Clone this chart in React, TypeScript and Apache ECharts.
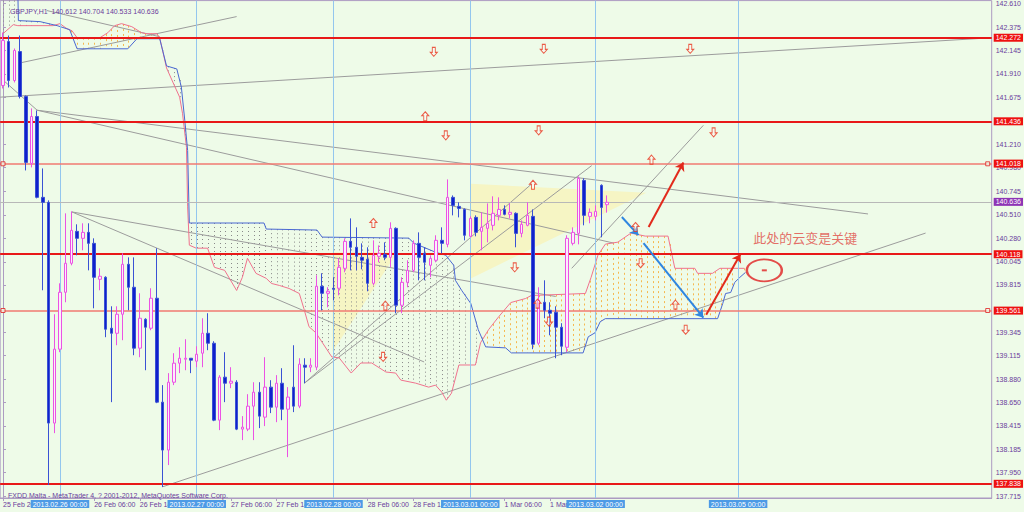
import React, { useEffect, useRef } from "react";
import * as echarts from "echarts";

// ---------- data ----------
const SLOTS = 174; // hourly slots shown on the time axis (bars + future area)
const Y_MIN = 137.699;
const Y_MAX = 142.639;

// hourly bars: [open, close, low, high]
const candles: number[][] = [
  [141.796, 142.242, 141.766, 142.322], [142.232, 141.845, 141.776, 142.292], [141.845, 142.143, 141.826, 142.163],
  [142.133, 141.687, 141.667, 142.292], [141.687, 141.032, 140.952, 141.697], [141.022, 141.488, 140.982, 141.568],
  [141.488, 140.685, 140.675, 141.548], [140.685, 140.635, 139.762, 140.972], [140.635, 138.443, 137.828, 140.655],
  [138.443, 139.177, 138.343, 139.524], [139.177, 139.742, 139.147, 139.831], [139.742, 140.030, 139.643, 140.526],
  [140.030, 140.357, 140.010, 140.546], [140.347, 140.278, 140.109, 140.417], [140.278, 140.337, 140.159, 140.427],
  [140.337, 140.228, 139.960, 140.427], [140.228, 139.891, 139.583, 140.278], [139.871, 139.901, 139.762, 139.980],
  [139.891, 139.375, 139.296, 139.901], [139.385, 139.335, 138.651, 139.603], [139.335, 139.524, 139.216, 139.603],
  [139.524, 140.020, 139.266, 140.129], [140.020, 139.792, 139.563, 140.089], [139.792, 139.187, 139.117, 140.089],
  [139.187, 139.484, 139.097, 139.732], [139.474, 139.395, 138.968, 139.484], [139.385, 139.683, 139.365, 139.782],
  [139.683, 138.651, 138.641, 140.179], [138.651, 138.175, 137.808, 138.820], [138.175, 138.849, 138.026, 138.939],
  [138.849, 139.038, 138.820, 139.137], [139.038, 139.087, 138.939, 139.196], [139.077, 139.087, 138.968, 139.276],
  [139.087, 139.068, 138.939, 139.087], [139.058, 139.127, 138.998, 139.206], [139.137, 139.335, 138.998, 139.484],
  [139.335, 139.236, 139.167, 139.534], [139.236, 138.472, 138.462, 139.256], [138.472, 138.899, 138.373, 138.919],
  [138.899, 138.839, 138.651, 139.147], [138.839, 138.859, 138.790, 138.998], [138.849, 138.383, 138.373, 138.869],
  [138.383, 138.403, 138.274, 138.512], [138.383, 138.611, 138.363, 138.730], [138.611, 138.750, 138.274, 138.849],
  [138.750, 138.512, 138.393, 138.849], [138.502, 138.800, 138.413, 139.097], [138.800, 138.601, 138.542, 138.869],
  [138.601, 138.839, 138.452, 138.919], [138.839, 138.581, 138.472, 138.988], [138.581, 138.701, 138.105, 138.800],
  [138.800, 138.611, 138.552, 139.216], [138.611, 139.028, 138.591, 139.087], [139.018, 138.998, 138.839, 139.087],
  [138.998, 139.018, 138.949, 139.087], [138.998, 139.802, 138.968, 139.911], [139.802, 139.732, 139.563, 139.931],
  [139.732, 139.752, 139.593, 139.792], [139.782, 139.772, 139.663, 139.891], [139.782, 139.990, 139.712, 140.079],
  [139.980, 140.248, 139.941, 140.278], [140.248, 140.189, 139.960, 140.476], [140.189, 140.099, 139.960, 140.387],
  [140.089, 140.060, 139.970, 140.228], [140.070, 139.831, 139.752, 140.189], [139.831, 140.109, 139.812, 140.258],
  [140.099, 140.129, 140.040, 140.208], [140.119, 140.089, 140.060, 140.238], [140.089, 140.377, 139.990, 140.437],
  [140.377, 139.613, 139.534, 140.387], [139.613, 139.841, 139.534, 139.891], [139.841, 139.960, 139.792, 140.060],
  [139.960, 140.228, 139.941, 140.258], [140.228, 140.089, 139.861, 140.337], [140.129, 140.040, 139.861, 140.189],
  [140.010, 140.079, 139.891, 140.109], [140.060, 140.258, 140.040, 140.308], [140.258, 140.228, 140.129, 140.387],
  [140.218, 140.685, 140.189, 140.863], [140.685, 140.605, 140.506, 140.704], [140.595, 140.575, 140.486, 140.635],
  [140.565, 140.308, 140.258, 140.575], [140.298, 140.476, 140.288, 140.496], [140.486, 140.337, 140.298, 140.506],
  [140.347, 140.387, 140.159, 140.536], [140.377, 140.427, 140.238, 140.625], [140.407, 140.526, 140.357, 140.695],
  [140.506, 140.565, 140.456, 140.685], [140.565, 140.516, 140.506, 140.605], [140.516, 140.536, 140.476, 140.625],
  [140.526, 140.327, 140.189, 140.536], [140.327, 140.417, 140.288, 140.456], [140.407, 140.506, 140.397, 140.635],
  [140.496, 139.226, 139.177, 140.565], [139.236, 139.663, 139.216, 139.792], [139.643, 139.563, 139.484, 139.861],
  [139.563, 139.534, 139.315, 139.643], [139.544, 139.395, 139.087, 139.603], [139.395, 139.206, 139.117, 139.435],
  [139.196, 140.278, 139.147, 140.308], [140.228, 140.337, 140.208, 140.387], [140.327, 140.873, 140.218, 140.893],
  [140.853, 140.506, 140.407, 140.873], [140.496, 140.536, 140.427, 140.575], [140.496, 140.546, 140.456, 140.605],
  [140.804, 140.585, 140.288, 140.814], [140.612, 140.636, 140.533, 140.704],
];

// Ichimoku Senkou Span A (pink) vertices: [bar index, price]
const senkouA: number[][] = [
  [0, 142.31], [1.8, 142.40], [2.6, 142.39], [8.8, 142.39], [10, 142.41], [11.2, 142.36], [12.1, 142.34], [13, 142.27],
  [17, 142.27], [18.4, 142.32], [19.6, 142.39], [20.8, 142.41], [22.6, 142.38], [24.3, 142.32], [25.2, 142.31], [27, 142.31],
  [27.5, 142.27], [28.7, 141.97], [29.8, 141.83], [31, 141.68], [31.5, 141.52], [32.2, 141.18], [32.4, 140.59], [32.7, 140.21],
  [33.9, 140.18], [35.9, 140.18], [37.1, 139.99], [38.9, 139.96], [41, 139.76], [42, 139.89], [42.9, 140.08], [44.4, 139.93],
  [46.2, 139.88], [47.1, 139.83], [48.5, 139.81], [50.2, 139.78], [52, 139.73], [52.8, 139.58], [53.7, 139.40], [54.9, 139.34],
  [57.7, 139.10], [59, 139.09], [61.1, 138.94], [62.8, 139.04], [64.7, 139.04], [67.2, 138.95], [68.9, 138.94], [69.8, 138.87],
  [72.4, 138.84], [74.7, 138.80], [75.9, 138.82], [77, 138.75], [77.8, 138.67], [78.7, 138.74], [80, 139.02], [82.9, 139.02],
  [83.8, 139.24], [85.2, 139.37], [87, 139.50], [89.1, 139.64], [91.7, 139.68], [92.7, 139.71], [102.2, 139.73], [103.2, 139.89],
  [104.4, 140.11], [105.7, 140.22], [107.9, 140.24], [110.2, 140.33], [112.7, 140.30], [116.7, 140.30], [117.9, 139.98],
  [121.4, 139.98], [121.9, 139.93], [124.5, 139.93], [125.8, 139.98], [130.1, 139.98],
];

// Ichimoku Senkou Span B (blue) vertices: [bar index, price]
const senkouB: number[][] = [
  [0, 142.74], [2.6, 142.74], [2.7, 142.44], [6.5, 142.43], [9.5, 142.39], [11.7, 142.35], [13, 142.16], [21.9, 142.16],
  [23.5, 142.26], [27.5, 142.26], [28.7, 141.99], [30.5, 141.96], [31.3, 141.78], [31.9, 141.45], [32.4, 141.15], [32.7, 140.43],
  [45.8, 140.43], [46.2, 140.37], [55.1, 140.36], [56, 140.29], [71.2, 140.28], [72.1, 140.23], [75.9, 140.14], [77.7, 140.11],
  [79.1, 140.01], [79.4, 139.86], [80.5, 139.76], [82.1, 139.63], [83.4, 139.37], [84.7, 139.20], [88.2, 139.19], [89.2, 139.14],
  [101.8, 139.14], [102.7, 139.30], [103.9, 139.34], [104.8, 139.45], [105.7, 139.48], [116.7, 139.48], [125.4, 139.48],
  [126.3, 139.63], [126.8, 139.73], [127.7, 139.74], [128.4, 139.84], [129.3, 139.89], [130.3, 139.94],
];

// last bar slot that carries the projected cloud
const CLOUD_END = 130;

// horizontal levels
const redLevels = [142.272, 141.436, 140.118, 137.838];
const lightLevels = [141.018, 139.561];
const bidPrice = 140.636;

// vertical time lines
const vLineIdx = [10, 34, 58, 82, 104, 129];
const vLineLabels = ["2013.02.26 00:00", "2013.02.27 00:00", "2013.02.28 00:00", "2013.03.01 00:00", "2013.03.02 00:00", "2013.03.05 00:00"];

// time axis labels (as visible beside the time-line tags)
const timeTickIdx = [0, 16, 24, 40, 48, 64, 72, 88, 96];
const timeTickLabels = ["25 Feb 20", "26 Feb 06:00", "26 Feb 14", "27 Feb 06:00", "27 Feb 14", "28 Feb 06:00", "28 Feb 14",
  "1 Mar 06:00", "1 Mar"];

// price axis labels
const priceTicks = [142.610, 142.375, 142.145, 141.910, 141.675, 141.210, 140.980, 140.745, 140.510, 140.280,
  140.045, 139.815, 139.345, 139.115, 138.880, 138.650, 138.415, 138.185, 137.950, 137.715];

// trend lines: [[i0, p0], [i1, p1]]
const trendLines: number[][][] = [
  [[7.7, 142.54], [27.5, 142.28]],
  [[3.0, 142.02], [41.0, 142.48]],
  [[-0.5, 141.68], [173.5, 142.27]],
  [[0.0, 141.85], [6.0, 141.55]],
  [[6.0, 141.55], [151.8, 140.52]],
  [[6.0, 141.55], [107.2, 140.23]],
  [[12.1, 140.54], [97.0, 139.70]],
  [[12.1, 140.54], [73.9, 139.05]],
  [[28.0, 137.81], [161.9, 140.33]],
  [[52.9, 138.84], [92.8, 140.82]],
  [[52.9, 138.84], [103.3, 141.00]],
  [[99.8, 139.98], [122.9, 141.40]],
];

// shaded triangles
const triangles: number[][][] = [
  [[57.8, 140.14], [69.2, 140.14], [57.8, 139.15]],
  [[82.1, 140.82], [82.1, 139.88], [112.9, 140.73]],
];

// drawn arrows
const redArrows: number[][][] = [
  [[113.3, 140.39], [119.4, 141.03]],
  [[123.4, 139.52], [129.4, 140.12]],
];
const blueArrows: number[][][] = [
  [[108.6, 140.49], [111.5, 140.31]],
  [[112.4, 140.23], [122.9, 139.49]],
];

// signal arrow marks
const upMarks: number[][] = [
  [74.1, 141.49], [113.8, 141.06], [65.0, 140.43], [93.0, 140.81], [111.0, 140.39], [118.0, 139.62], [67.1, 139.61], [93.8, 139.63],
];
const downMarks: number[][] = [
  [75.6, 142.13], [94.9, 142.16], [120.6, 142.16], [77.7, 141.30], [94.0, 141.35], [124.7, 141.33], [89.8, 139.99],
  [111.9, 140.03], [119.8, 139.37], [66.7, 139.10], [95.8, 139.45],
];

const noteText = "此处的云变是关键";
const notePos = [131.3, 140.29];
const ellipsePos = [133.6, 139.96];

// ---------- helpers ----------
const FONT = '"Liberation Sans", Arial, sans-serif';
const AXIS_COLOR = "#ad9bc2";
const TEXT_COLOR = "#6a3c9c";

function interp(list: number[][], x: number): number {
  if (x <= list[0][0]) return list[0][1];
  for (let k = 1; k < list.length; k++) {
    if (x <= list[k][0]) {
      const [x0, y0] = list[k - 1];
      const [x1, y1] = list[k];
      return x1 === x0 ? y1 : y0 + ((y1 - y0) * (x - x0)) / (x1 - x0);
    }
  }
  return list[list.length - 1][1];
}

export default function App() {
  const ref = useRef<HTMLDivElement>(null);
  useEffect(() => {
    const el = ref.current!;
    const chart = echarts.init(el, null, { renderer: "svg" });
    const last = candles[candles.length - 1];
    const tickSet = new Set(timeTickIdx);

    const lineSeries = (data: number[][], color: string, width: number, z: number) => ({
      type: "line", xAxisIndex: 1, yAxisIndex: 0, data, showSymbol: false, symbol: "none", silent: true, z,
      lineStyle: { color, width }, animation: false,
    });

    const upPath = "path://M3.5,0 L7,4 L5,4 L5,9 L2,9 L2,4 L0,4 Z";
    const ellipsePath = "path://M0,10 A10,10 0 1,0 20,10 A10,10 0 1,0 0,10 Z";
    const levelLabel = (text: string, bg: string) => ({
      show: true, position: "end", distance: 2, formatter: text, color: "#ffffff", backgroundColor: bg,
      padding: [1, 2, 0, 2], fontSize: 7, fontFamily: FONT,
    });

    const option: any = {
      animation: false,
      backgroundColor: "#eefbe8",
      textStyle: { fontFamily: FONT },
      title: [
        { text: `GBPJPY,H1  ${last[0].toFixed(3)} ${last[3].toFixed(3)} ${last[2].toFixed(3)} ${last[1].toFixed(3)}`, left: 5, top: 3,
          textStyle: { fontSize: 7, fontWeight: "normal", color: TEXT_COLOR, fontFamily: FONT } },
        { text: "FXDD Malta - MetaTrader 4, ? 2001-2012, MetaQuotes Software Corp.", left: 3, top: 487,
          textStyle: { fontSize: 7, fontWeight: "normal", color: TEXT_COLOR, fontFamily: FONT } },
      ],
      grid: { left: 0, top: 0, width: 994, height: 498, show: true, borderColor: AXIS_COLOR, borderWidth: 1, backgroundColor: "transparent" },
      xAxis: [
        {
          type: "category", data: Array.from({ length: SLOTS }, (_, i) => String(i)), boundaryGap: true,
          axisLine: { show: true, lineStyle: { color: AXIS_COLOR } },
          axisTick: { show: true, alignWithLabel: true, length: 3, interval: (i: number) => tickSet.has(i), lineStyle: { color: AXIS_COLOR } },
          axisLabel: {
            interval: (i: number) => tickSet.has(i), align: "left", fontSize: 7, color: TEXT_COLOR, margin: 3, fontFamily: FONT,
            formatter: (_v: string, i: number) => { const k = timeTickIdx.indexOf(i); return k >= 0 ? timeTickLabels[k] : ""; },
          },
          splitLine: { show: false },
        },
        { type: "value", min: -0.5, max: SLOTS - 0.5, show: false },
      ],
      yAxis: {
        type: "value", position: "right", min: Y_MIN, max: Y_MAX, scale: true,
        axisLine: { show: true, lineStyle: { color: AXIS_COLOR } },
        axisTick: { show: true, length: 3, customValues: priceTicks, lineStyle: { color: AXIS_COLOR } },
        axisLabel: { customValues: priceTicks, formatter: (v: number) => v.toFixed(3), fontSize: 7, color: TEXT_COLOR, margin: 4, fontFamily: FONT },
        splitLine: { show: false },
      },
      series: [
        // triangles
        {
          type: "custom", xAxisIndex: 1, yAxisIndex: 0, z: 1, silent: true, data: [[0, 140]],
          renderItem: (_p: any, api: any) => ({
            type: "group",
            children: triangles.map((t) => ({
              type: "polygon", shape: { points: t.map((q) => api.coord(q)) }, style: { fill: "#f6f5c4", stroke: "none" },
            })),
          }),
        },
        // vertical & horizontal levels
        {
          type: "line", xAxisIndex: 0, yAxisIndex: 0, data: [], z: 3, silent: true,
          markLine: {
            silent: true, symbol: "none", animation: false,
            data: [
              ...vLineIdx.map((v, k) => ({
                xAxis: String(v), lineStyle: { color: "#93c6ee", width: 1, type: "solid" },
                label: { show: true, position: "start", distance: 2, formatter: vLineLabels[k], color: "#ffffff", backgroundColor: "#4d9be6",
                  padding: [1, 2, 0, 2], fontSize: 7, fontFamily: FONT },
              })),
              ...redLevels.map((v) => ({ yAxis: v, lineStyle: { color: "#e81818", width: 2, type: "solid" }, label: levelLabel(v.toFixed(3), "#ee1111") })),
              ...lightLevels.map((v) => ({ yAxis: v, lineStyle: { color: "#f07a72", width: 1.5, type: "solid" }, label: levelLabel(v.toFixed(3), "#ee1111") })),
              { yAxis: bidPrice, lineStyle: { color: "#b8b8b8", width: 1, type: "solid" }, label: levelLabel(bidPrice.toFixed(3), "#8e35b5") },
            ],
          },
        },
        // cloud: dotted histogram between the two spans, one column per bar slot
        {
          type: "custom", xAxisIndex: 1, yAxisIndex: 0, z: 2, silent: true, data: [[0, 140]],
          renderItem: (_p: any, api: any) => {
            const children: any[] = [];
            for (let i = 0; i <= CLOUD_END; i++) {
              const a = interp(senkouA, i);
              const b = interp(senkouB, i);
              const bull = a > b;
              const p0 = api.coord([i, Math.min(Math.max(a, b), Y_MAX)]);
              const p1 = api.coord([i, Math.min(a, b)]);
              const x = Math.round(p0[0]) + 0.5;
              children.push({
                type: "line",
                shape: { x1: x, y1: p0[1], x2: x, y2: p1[1] },
                style: bull
                  ? { stroke: "#f6b84e", lineWidth: 1, lineDash: [2, 3] }
                  : { stroke: "#8a8a8a", lineWidth: 1, lineDash: [1, 3] },
              });
            }
            return { type: "group", children };
          },
        },
        // trend lines
        ...trendLines.map((t) => lineSeries(t, "#9c9c9c", 1, 3)),
        // ichimoku spans
        lineSeries(senkouA, "#f0728e", 1, 4),
        lineSeries(senkouB, "#4a68d2", 1, 4),
        // candles
        {
          type: "candlestick", xAxisIndex: 0, yAxisIndex: 0, data: candles, z: 5, barWidth: 3, silent: true,
          itemStyle: { color: "#fbeefb", color0: "#1020cc", borderColor: "#ec52e4", borderColor0: "#3a52d4", borderWidth: 1 },
        },
        // square markers on selected levels
        {
          type: "scatter", xAxisIndex: 1, yAxisIndex: 0, z: 6, silent: true, symbol: "rect", symbolSize: 4,
          data: lightLevels.flatMap((v) => [[0, v], [172.8, v]]),
          itemStyle: { color: "#eefbe8", borderColor: "#e02020", borderWidth: 1 },
        },
        // drawn arrows
        {
          type: "line", xAxisIndex: 1, yAxisIndex: 0, data: [], z: 6, silent: true,
          markLine: {
            silent: true, symbol: ["none", "arrow"], symbolSize: 8, animation: false, label: { show: false },
            data: [
              ...redArrows.map((a) => [{ coord: a[0], lineStyle: { color: "#e22a1c", width: 2, type: "solid" } }, { coord: a[1] }]),
              ...blueArrows.map((a) => [{ coord: a[0], lineStyle: { color: "#2f86e0", width: 2, type: "solid" } }, { coord: a[1] }]),
            ],
          },
        },
        // signal marks
        {
          type: "scatter", xAxisIndex: 1, yAxisIndex: 0, z: 6, silent: true, symbol: upPath, symbolSize: [7, 9], data: upMarks,
          itemStyle: { color: "rgba(255,255,255,0.5)", borderColor: "#e8331c", borderWidth: 1 },
        },
        {
          type: "scatter", xAxisIndex: 1, yAxisIndex: 0, z: 6, silent: true, symbol: upPath, symbolRotate: 180, symbolSize: [7, 9], data: downMarks,
          itemStyle: { color: "rgba(255,255,255,0.5)", borderColor: "#e8331c", borderWidth: 1 },
        },
        // ellipse + dash
        {
          type: "scatter", xAxisIndex: 1, yAxisIndex: 0, z: 6, silent: true, symbol: ellipsePath, symbolSize: [35, 22], data: [ellipsePos],
          itemStyle: { color: "rgba(0,0,0,0)", borderColor: "#e02020", borderWidth: 2 },
        },
        {
          type: "scatter", xAxisIndex: 1, yAxisIndex: 0, z: 6, silent: true, symbol: "rect", symbolSize: [5, 2], data: [ellipsePos],
          itemStyle: { color: "#e02020" },
        },
        // annotation text
        {
          type: "scatter", xAxisIndex: 1, yAxisIndex: 0, z: 6, silent: true, symbolSize: 0, data: [notePos],
          label: { show: true, position: "right", distance: 2, formatter: noteText, fontSize: 13, color: "#e04a44",
            fontFamily: '"Noto Sans CJK SC", sans-serif' },
        },
      ],
    };
    chart.setOption(option);
    return () => chart.dispose();
  }, []);
  return <div ref={ref} style={{ position: "fixed", left: 0, top: 0, width: 1024, height: 512 }} />;
}
